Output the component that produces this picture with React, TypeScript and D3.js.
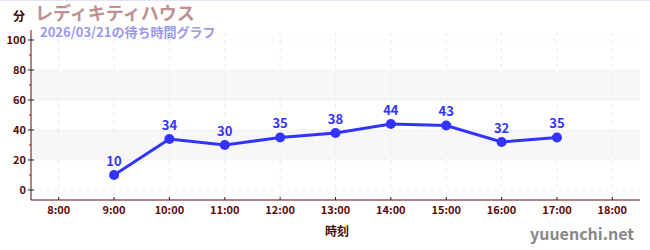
import React from "react";
import * as d3 from "d3";

const hours = [9, 10, 11, 12, 13, 14, 15, 16, 17];
const waits = [10, 34, 30, 35, 38, 44, 43, 32, 35];
const xTicks = [8, 9, 10, 11, 12, 13, 14, 15, 16, 17, 18];
const yTicks = [0, 20, 40, 60, 80, 100];
const yMinor = [10, 30, 50, 70, 90];
const bands = [[20, 40], [60, 80]];

const W = 650, H = 250;
const L = 31, R = 640, T = 32, B = 200;
const axisColor = "#5a0a0a";
const font = "'Noto Sans CJK JP', 'Noto Sans', sans-serif";

export default function App() {
  const x = d3.scaleLinear().domain([7.5, 18.5]).range([L, R]);
  const y = d3.scaleLinear().domain([-6.67, 105.33]).range([B, T]);
  const line = d3.line<number>().x((_, i) => x(hours[i])).y((d) => y(d));
  return (
    <svg width={W} height={H} style={{ position: "absolute", left: 0, top: 0 }} fontFamily={font}>
      <rect x={0} y={0} width={W} height={H} fill="#fff" />
      <line x1={0} x2={W} y1={0.5} y2={0.5} stroke="#e4e4f6" />
      {bands.map(([a, b], i) => (
        <rect key={i} x={L} y={y(b)} width={R - L} height={y(a) - y(b)} fill="#f7f7f7" />
      ))}
      {yTicks.map((t) => (
        <line key={"gy" + t} x1={L} x2={R} y1={y(t)} y2={y(t)} stroke="#ececec" strokeDasharray="4,4" />
      ))}
      {xTicks.map((t) => (
        <line key={"gx" + t} x1={x(t)} x2={x(t)} y1={T} y2={B} stroke="#ececec" strokeDasharray="4,4" />
      ))}
      <line x1={L} x2={L} y1={T - 2} y2={B} stroke={axisColor} strokeWidth={1} />
      <line x1={L} x2={R} y1={B} y2={B} stroke={axisColor} strokeWidth={1} />
      {yTicks.map((t) => (
        <g key={"ty" + t}>
          <line x1={L - 3} x2={L + 3} y1={y(t)} y2={y(t)} stroke="#222" />
          <text x={L - 5} y={y(t)} dy="0.35em" textAnchor="end" fontSize={11} fontWeight="bold" fill={axisColor}>{t}</text>
        </g>
      ))}
      {yMinor.map((t) => (
        <line key={"my" + t} x1={L - 2} x2={L} y1={y(t)} y2={y(t)} stroke="#d00" />
      ))}
      {xTicks.map((t) => (
        <g key={"tx" + t}>
          <line x1={x(t)} x2={x(t)} y1={B - 3} y2={B} stroke="#222" />
          <text x={x(t)} y={B + 14} textAnchor="middle" fontSize={11} fontWeight="bold" fill={axisColor}>{`${t}:00`}</text>
        </g>
      ))}
      <path d={line(waits) || ""} fill="none" stroke="#3333ff" strokeWidth={3} />
      {waits.map((v, i) => (
        <g key={"p" + i}>
          <circle cx={x(hours[i])} cy={y(v)} r={5} fill="#3333ff" />
          <text x={x(hours[i])} y={y(v) - 9} textAnchor="middle" fontSize={13} fontWeight="bold" fill="#3333ff">{v}</text>
        </g>
      ))}
      <text x={13} y={21} fontSize={12} fontWeight="bold" fill="#3a0a0a">分</text>
      <text x={35} y={20} fontSize={18} fontWeight="bold" fill="#c09090">レディキティハウス</text>
      <text x={40} y={37} fontSize={13} fontWeight="bold" fill="#9999ee">2026/03/21の待ち時間グラフ</text>
      <text x={337} y={236} textAnchor="middle" fontSize={12} fontWeight="bold" fill="#3a0a0a">時刻</text>
      <text x={634} y={240} textAnchor="end" fontSize={16} fontWeight="bold" fill="#888">yuuenchi.net</text>
    </svg>
  );
}
